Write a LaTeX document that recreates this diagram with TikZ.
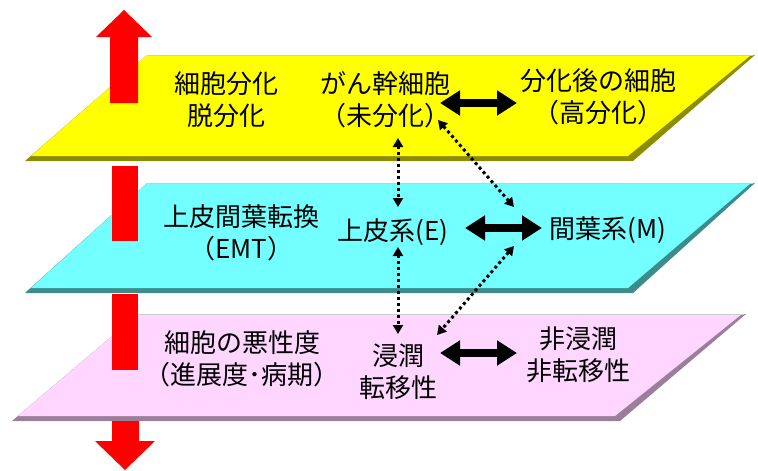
\documentclass[tikz,border=0pt]{standalone}
\usepackage{fontspec}
\newfontfamily\jp{Noto Sans CJK JP}
\usetikzlibrary{arrows.meta}
\definecolor{ylw}{HTML}{FFFF00}
\definecolor{ylwdk}{HTML}{8C8C00}
\definecolor{cyn}{HTML}{73FFFF}
\definecolor{cyndk}{HTML}{3C8C8C}
\definecolor{pnk}{HTML}{FFD6FF}
\definecolor{pnkdk}{HTML}{9C7E9C}
\definecolor{redarr}{HTML}{FF0000}
\newcommand\myplane[6]{%
  \fill[#6] (#1+#4,#2) -- (#1+#4+608,#2) -- (#1+608,#3) -- (#1,#3) -- cycle;
  \fill[#5] (#1+#4,#2) -- (#1+#4+604,#2) -- (#1+603,#3-5) -- (#1+6,#3-5) -- cycle;
  \draw[gray!40, line width=1.2pt] (#1+#4+1,#2+0.6) -- (#1+#4+606,#2+0.6);
}
\tikzset{
  lbl/.style={font=\jp\fontsize{26}{32}\selectfont, align=center, inner sep=0pt},
  dotarr/.style={line width=3pt, dash pattern=on 3pt off 3pt,
    {Triangle[length=9pt,width=10pt]}-{Triangle[length=9pt,width=10pt]}},
  thickarr/.style={line width=8pt,
    {Triangle[length=20pt,width=24pt]}-{Triangle[length=20pt,width=24pt]}},
  redfill/.style={fill=redarr}
}
\begin{document}
\begin{tikzpicture}[x=1pt,y=-1pt]
\useasboundingbox (0,0) rectangle (758,471);
% planes
\myplane{25}{55}{161}{122}{ylw}{ylwdk}
\myplane{25}{183}{293}{122}{cyn}{cyndk}
\myplane{12}{314}{421}{126}{pnk}{pnkdk}
% red arrows
\fill[redfill] (110,103) -- (110,37) -- (96,37) -- (124,10) -- (152,37) -- (138,37) -- (138,103) -- cycle;
\fill[redfill] (112,166) rectangle (138,241);
\fill[redfill] (112,294) rectangle (138,370);
\fill[redfill] (112,421) -- (112,441) -- (95,441) -- (125,470) -- (155,441) -- (139,441) -- (139,421) -- cycle;
% labels
\node[lbl] (diff) at (226,100) {細胞分化\\脱分化};
\node[lbl] (stem) at (385,100) {がん幹細胞\\（未分化）};
\node[lbl] (post) at (598,97) {分化後の細胞\\（高分化）};
\node[lbl] (emt) at (241,233) {上皮間葉転換\\（EMT）};
\node[lbl] (epi) at (393,232) {上皮系(E)};
\node[lbl] (mes) at (608,230) {間葉系(M)};
\node[lbl] (malig) at (242,359) {細胞の悪性度\\（進展度･病期）};
\node[lbl] (inv) at (398,372) {浸潤\\転移性};
\node[lbl] (noninv) at (578,355) {非浸潤\\非転移性};
% arrow endpoints
\coordinate (a1) at (440,103);
\coordinate (a2) at (517,103);
\coordinate (b1) at (465,228);
\coordinate (b2) at (542,228);
\coordinate (c1) at (440,353);
\coordinate (c2) at (517,353);
\coordinate (d1) at (398,138);
\coordinate (d2) at (398,207);
\coordinate (e1) at (438,120);
\coordinate (e2) at (514,207);
\coordinate (f1) at (398,247);
\coordinate (f2) at (398,334);
\coordinate (g1) at (514,246);
\coordinate (g2) at (437,335);
% thick arrows
\draw[thickarr] (a1) -- (a2);
\draw[thickarr] (b1) -- (b2);
\draw[thickarr] (c1) -- (c2);
% dotted arrows
\draw[dotarr] (d1) -- (d2);
\draw[dotarr] (e1) -- (e2);
\draw[dotarr] (f1) -- (f2);
\draw[dotarr] (g1) -- (g2);
\end{tikzpicture}
\end{document}
